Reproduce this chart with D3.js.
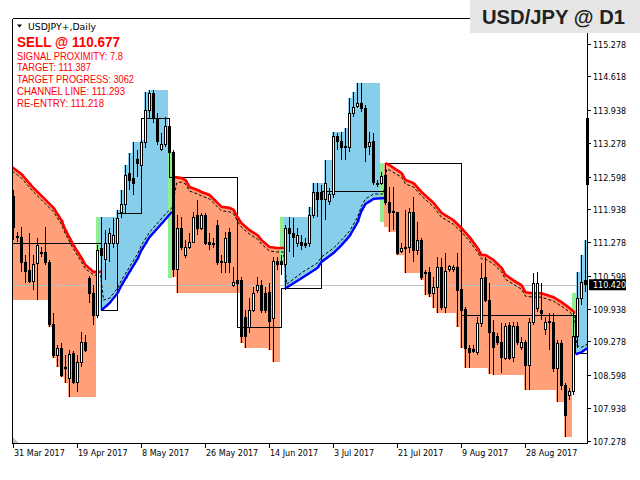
<!DOCTYPE html>
<html><head><meta charset="utf-8">
<script src="https://cdn.jsdelivr.net/npm/d3@7"></script>
<style>body{margin:0;background:#fff}svg{display:block}</style>
</head><body>
<script>
// ---------- DATA ----------
const dateLabels = ["31 Mar 2017","19 Apr 2017","8 May 2017","26 May 2017","14 Jun 2017","3 Jul 2017","21 Jul 2017","9 Aug 2017","28 Aug 2017"];
const dateIdx = [0,16,32,48,64,80,96,112,128];
const priceTicks = [115.278,114.618,113.938,113.278,112.598,111.938,111.278,110.598,109.938,109.278,108.598,107.938,107.278];

const open = [112.19,111.40,111.38,110.86,110.70,110.49,110.84,111.08,111.08,110.86,
109.61,109.00,109.14,108.76,108.54,109.04,108.46,108.86,109.26,110.55,
110.25,109.81,111.16,110.92,111.26,111.26,111.26,111.87,112.03,112.67,
112.57,112.95,112.83,113.28,113.94,114.28,113.78,113.14,113.24,113.60,
113.09,110.72,111.56,111.02,111.18,111.28,111.82,111.56,111.82,111.28,
111.26,111.62,110.88,110.86,111.48,110.41,110.51,110.51,109.77,109.55,
109.91,110.31,110.41,110.25,110.27,109.75,110.88,110.88,110.82,111.56,
111.46,111.26,111.28,111.26,111.26,111.82,112.27,112.27,112.13,112.09,
112.23,113.40,113.30,113.20,113.18,113.88,114.02,114.08,113.98,113.20,
113.30,112.47,112.47,112.63,112.07,111.89,111.87,111.10,111.18,111.18,
111.87,111.12,111.32,110.66,110.66,110.25,110.37,110.76,109.97,110.72,
110.72,110.76,110.33,109.93,109.14,109.12,109.06,109.63,110.57,110.11,
109.45,109.37,109.26,108.94,109.59,108.96,109.57,109.16,109.26,108.80,
109.65,109.95,109.91,109.51,109.65,109.65,108.74,109.24,108.40,108.18,
108.26,109.37,110.15,110.50];
const high = [112.33,111.48,111.58,111.02,111.46,111.02,111.36,111.18,111.58,110.92,
109.85,109.20,109.24,109.00,109.10,109.08,109.00,109.47,109.41,110.60,
110.41,111.22,111.78,111.52,111.56,111.76,111.93,112.33,112.83,113.07,
113.30,113.14,113.34,114.30,114.34,114.34,113.88,113.48,113.80,113.78,
113.14,111.82,111.78,111.32,111.46,111.89,112.13,111.87,111.87,111.46,
111.36,111.72,111.02,111.48,111.56,110.78,110.55,110.57,109.91,110.15,
110.37,110.57,110.51,110.37,110.45,110.98,110.98,111.02,111.62,111.78,
111.76,111.56,111.42,111.36,111.99,112.47,112.47,112.43,112.93,112.37,
113.50,113.48,113.50,113.58,114.18,114.30,114.49,114.49,114.04,113.50,
113.48,112.53,112.69,112.83,112.39,112.39,111.89,111.26,111.93,111.97,
112.19,111.68,111.36,110.72,110.78,110.57,110.98,110.96,111.06,110.82,
110.82,111.06,110.45,109.97,109.20,109.20,109.77,110.86,110.98,110.45,
109.71,109.45,109.65,109.65,109.67,109.67,109.67,109.37,109.30,109.75,
110.66,110.68,110.45,109.77,109.85,109.85,109.30,109.30,108.44,108.34,
109.85,110.68,111.02,111.32];
const low = [111.32,111.28,110.68,110.45,110.45,110.31,110.11,110.98,110.82,109.57,
108.94,108.76,108.56,108.44,108.16,108.42,108.26,108.76,109.06,110.05,
109.61,109.75,110.01,110.51,110.88,111.16,111.12,111.76,111.87,112.33,
112.23,112.59,112.39,113.18,113.78,113.68,113.24,113.12,113.20,113.07,
110.57,110.25,111.12,110.96,111.14,111.26,111.42,111.52,111.22,111.12,
111.16,110.82,110.66,110.66,110.66,110.37,110.41,109.24,109.14,109.45,
109.87,110.25,109.85,109.85,109.10,108.86,110.72,110.62,110.31,111.08,
110.98,111.18,111.12,111.16,111.18,111.76,111.78,111.93,111.72,112.03,
112.17,113.14,112.93,112.93,113.09,113.80,113.98,113.90,112.89,113.03,
112.43,112.39,112.43,112.03,111.48,111.52,111.02,111.06,110.66,111.06,
110.88,111.02,110.51,110.21,110.17,109.95,109.85,109.91,109.85,110.68,
110.68,109.57,109.14,108.74,108.74,109.04,109.00,109.57,110.07,108.62,
108.60,109.20,108.64,108.90,108.90,108.86,109.20,109.10,108.30,108.30,
109.61,109.87,109.71,109.41,109.10,108.66,108.05,108.30,107.35,108.10,
108.20,109.14,110.01,110.27];
const close = [111.58,111.38,110.86,110.68,110.49,110.82,111.22,111.06,110.86,109.61,
109.00,109.14,108.60,108.74,109.02,108.46,108.86,109.26,109.10,110.25,
109.81,111.12,111.02,111.26,111.46,111.42,111.76,112.03,112.63,112.53,
112.47,112.87,113.28,113.94,114.28,113.78,113.30,113.24,113.60,113.09,
110.72,111.56,111.18,111.18,111.28,111.78,111.56,111.82,111.26,111.24,
111.24,110.86,110.86,111.36,110.86,110.47,110.45,109.37,109.37,109.91,
110.25,110.41,109.91,109.91,109.67,110.88,110.82,110.82,111.56,111.46,
111.38,111.42,111.22,111.22,111.82,112.27,112.13,112.13,112.47,112.23,
113.40,113.30,113.18,113.18,113.88,114.00,114.08,113.98,113.18,113.28,
112.49,112.45,112.61,112.07,111.87,111.87,111.06,111.16,111.16,111.87,
111.12,111.32,110.57,110.64,110.25,110.37,110.76,109.97,110.68,110.78,
110.76,110.31,109.91,109.14,109.06,109.08,109.63,110.55,110.11,109.45,
109.16,109.26,108.96,109.57,108.94,109.57,109.26,109.26,108.80,109.65,
110.45,110.45,109.85,109.65,109.69,108.74,109.24,108.40,107.79,108.26,
109.37,110.15,110.47,110.42];

// trend segments (channel indicator)
const segType = ["down","up","down","up","down","up"];
const segFrom = [0,22,40,68,93,141];
const segTo   = [20,38,66,91,139,143];
const segStartExtreme = [110.11,null,null,111.78,111.58,null];

const redKnots = [
 [[-0.3,112.79],[2,112.65],[5,112.37],[7,112.21],[10,111.97],[12,111.72],[13,111.52],[15,111.22],[17,110.96],[18,110.82],[20,110.68],[22,110.68]],
 [[40.3,112.59],[42,112.57],[43,112.53],[44,112.39],[46,112.33],[47,112.29],[49,112.23],[51,112.07],[52,111.99],[54,111.97],[55,111.93],[56,111.78],[57,111.66],[59,111.52],[61,111.42],[62,111.32],[64,111.18],[66,111.16],[67.9,111.16]],
 [[93,112.87],[94,112.83],[97,112.67],[98,112.53],[100,112.47],[102,112.29],[105,112.07],[107,111.87],[110,111.72],[112,111.56],[114,111.38],[116,111.16],[117,111.02],[118,111.02],[120,110.92],[122,110.76],[123,110.62],[125,110.51],[127,110.41],[128,110.27],[130,110.25],[132,110.25],[135,110.17],[137,110.07],[139,109.95],[140.4,109.85]]
];
const blueKnots = [
 [[22,109.91],[24,110.05],[26,110.25],[27,110.41],[29,110.68],[31,110.94],[32,111.12],[34,111.38],[36,111.56],[38,111.74],[39.6,111.89]],
 [[68,110.35],[72,110.55],[76,110.76],[77,110.88],[80,111.06],[82,111.22],[84,111.40],[86,111.68],[87,111.91],[88,112.05],[90,112.15],[92.9,112.17]],
 [[140.5,109.02],[142,109.06],[143.4,109.14]]
];
const dashKnots = [
 [-0.3,112.71],[2,112.57],[5,112.29],[7,112.13],[10,111.89],[12,111.64],[13,111.44],[15,111.14],[17,110.88],[18,110.74],[20,110.62],[21.8,110.60],
 [22.5,110.11],[24,110.15],[26,110.35],[27,110.51],[29,110.78],[31,111.04],[32,111.22],[34,111.48],[36,111.66],[38,111.85],[39.6,111.97],
 [40.8,112.47],[42,112.49],[43,112.45],[44,112.31],[46,112.25],[47,112.21],[49,112.15],[51,111.99],[52,111.91],[54,111.89],[55,111.85],[56,111.70],[57,111.58],[59,111.44],[61,111.34],[62,111.24],[64,111.10],[66,111.08],[67.5,111.08],
 [68.3,110.43],[72,110.66],[76,110.86],[77,110.98],[80,111.16],[82,111.32],[84,111.50],[86,111.78],[87,112.01],[88,112.15],[90,112.25],[92.5,112.25],
 [93.3,112.75],[94,112.73],[97,112.59],[98,112.45],[100,112.39],[102,112.21],[105,111.99],[107,111.78],[110,111.64],[112,111.48],[114,111.30],[116,111.08],[117,110.94],[118,110.94],[120,110.84],[122,110.68],[123,110.53],[125,110.43],[127,110.33],[128,110.19],[130,110.17],[132,110.17],[135,110.09],[137,109.99],[139,109.87],[140.3,109.77],
 [140.8,109.20],[142,109.16],[143.4,109.22]
];
const greenIdx = [21,39,67,92,140];
const greenHi  = [111.78,113.09,111.78,112.87,110.25];
const greenLo  = [111.06,110.55,110.82,111.68,109.37];

const stepIdx   = [-0.4,21.9,26.1,31.9,39.1,55.9,67.1,77.1,92.9,112.1,140.4,143.6];
const stepPrice = [111.26,109.91,111.85,113.78,112.59,109.55,110.35,112.29,112.87,109.81,109.04,109.04];

const lastPrice = 110.420;
const rangeBar = [113.78,112.43];
const infoTitle = "SELL @ 110.677";
const infoLines = ["SIGNAL PROXIMITY: 7.8","TARGET: 111.387","TARGET PROGRESS: 3062","CHANNEL LINE: 111.293","RE-ENTRY: 111.218"];

// layout (text widths measured on the reference)
const infoWidths = [106,74,117,108,87];

// ---------- DRAW ----------
const W=640,H=480;
const svg=d3.select("body").append("svg").attr("width",W).attr("height",H)
  .style("font-family","'DejaVu Sans',sans-serif");
const L=12.5,R=587.5,T=18.5,B=443.5;
const x=d3.scaleLinear().domain([0,143]).range([13.5,585.5]);
const y=d3.scaleLinear().domain([107.278,115.278]).range([440.7,43.7]);

svg.append("clipPath").attr("id","plotclip").append("rect")
  .attr("x",L).attr("y",T).attr("width",R-L).attr("height",B-T);
const g=svg.append("g").attr("clip-path","url(#plotclip)");

// shading
const shade=g.append("g").attr("shape-rendering","crispEdges");
let ri=0,bi=0;
segType.forEach((t,k)=>{
  const knots = t==="down" ? redKnots[ri++] : blueKnots[bi++];
  const lineAt = d3.scaleLinear().domain(knots.map(d=>d[0])).range(knots.map(d=>d[1])).clamp(true);
  let ext = segStartExtreme[k];
  for(let i=segFrom[k];i<=segTo[k];i++){
    if(t==="down"){ ext = ext===null?low[i]:Math.min(ext,low[i]); }
    else { ext = ext===null?high[i]:Math.max(ext,high[i]); }
    const lv=lineAt(i);
    shade.append("rect")
      .attr("x",x(i)-2).attr("width",4)
      .attr("y",y(Math.max(lv,ext))).attr("height",Math.abs(y(lv)-y(ext)))
      .attr("fill",t==="down"?"#FFA07A":"#87CEEB");
  }
});
greenIdx.forEach((gi,k)=>{
  shade.append("rect").attr("x",x(gi)-2).attr("width",4)
    .attr("y",y(greenHi[k])).attr("height",y(greenLo[k])-y(greenHi[k]))
    .attr("fill","#90EE90");
});

// current price line
g.append("line").attr("x1",L).attr("x2",R).attr("y1",Math.round(y(lastPrice))+0.5).attr("y2",Math.round(y(lastPrice))+0.5)
  .attr("stroke","#c0c0c0").attr("stroke-width",1);

// step line
const stepPts=stepIdx.map((v,k)=>[v,stepPrice[k]]);
g.append("path").attr("d",d3.line().x(d=>x(d[0])).y(d=>y(d[1])).curve(d3.curveStepAfter)(stepPts))
  .attr("fill","none").attr("stroke","#000").attr("stroke-width",1).attr("shape-rendering","crispEdges");

// dashed line
const ln=d3.line().x(d=>x(d[0])).y(d=>y(d[1]));
g.append("path").attr("d",ln(dashKnots)).attr("fill","none").attr("stroke","#000")
  .attr("stroke-width",1).attr("stroke-dasharray","3,2");

// red / blue channel lines
redKnots.forEach(k=>g.append("path").attr("d",ln(k)).attr("fill","none").attr("stroke","#ff0000").attr("stroke-width",2.6));
blueKnots.forEach(k=>g.append("path").attr("d",ln(k)).attr("fill","none").attr("stroke","#0000ff").attr("stroke-width",2.4));

// candles
const idx=d3.range(open.length);
const cg=g.append("g").attr("shape-rendering","crispEdges");
cg.selectAll("line.w").data(idx).enter().append("line")
  .attr("x1",i=>Math.floor(x(i))+0.5).attr("x2",i=>Math.floor(x(i))+0.5)
  .attr("y1",i=>y(high[i])).attr("y2",i=>y(low[i]))
  .attr("stroke","#000").attr("stroke-width",1);
cg.selectAll("rect.b").data(idx).enter().append("rect")
  .attr("x",i=>Math.floor(x(i))-0.5).attr("width",2)
  .attr("y",i=>y(Math.max(open[i],close[i])))
  .attr("height",i=>Math.max(0.5,Math.abs(y(open[i])-y(close[i]))))
  .attr("fill",i=>close[i]>=open[i]?"#fff":"#000")
  .attr("stroke","#000").attr("stroke-width",1);

// range bar at the right edge
svg.append("rect").attr("x",R-1.5).attr("width",3).attr("y",y(rangeBar[0])).attr("height",y(rangeBar[1])-y(rangeBar[0])).attr("fill","#000");

// frame
const fr=svg.append("g").attr("stroke","#000").attr("stroke-width",1).attr("shape-rendering","crispEdges");
fr.append("line").attr("x1",L).attr("x2",L).attr("y1",T).attr("y2",B);
fr.append("line").attr("x1",L).attr("x2",470).attr("y1",T).attr("y2",T);
fr.append("line").attr("x1",L).attr("x2",R).attr("y1",B).attr("y2",B);
fr.append("line").attr("x1",R).attr("x2",R).attr("y1",33).attr("y2",B);
svg.append("path").attr("d",`M${L+0.5},437 L${L+0.5},${B-0.5} L${L+6},${B-0.5}Z`).attr("fill","#c0c0c0");

// right axis
const ya=svg.append("g");
priceTicks.forEach(p=>{
  const yy=Math.round(y(p))+0.5;
  ya.append("line").attr("x1",R).attr("x2",R+3).attr("y1",yy).attr("y2",yy).attr("stroke","#000").attr("shape-rendering","crispEdges");
  ya.append("text").attr("x",593).attr("y",yy+3).attr("font-size",8).attr("fill","#000").text(d3.format(".3f")(p));
});
// current price tag
const yp=y(lastPrice);
svg.append("rect").attr("x",589).attr("y",yp-5.5).attr("width",37).attr("height",11).attr("fill","#000");
svg.append("text").attr("x",593).attr("y",yp+3).attr("font-size",8).attr("fill","#fff").text(d3.format(".3f")(lastPrice));

// bottom axis
dateIdx.forEach((di,k)=>{
  const xx=Math.round(x(di)-1)+0.5;
  svg.append("line").attr("x1",xx).attr("x2",xx).attr("y1",B).attr("y2",B+4).attr("stroke","#000").attr("shape-rendering","crispEdges");
  svg.append("text").attr("x",xx+0.5).attr("y",456).attr("font-size",8).attr("fill","#000").text(dateLabels[k]);
});

// title box
svg.append("rect").attr("x",470).attr("y",0).attr("width",170).attr("height",33).attr("fill","#e6e6e6");
svg.append("text").attr("x",482).attr("y",23.5).attr("font-family","'Liberation Sans',Arial,sans-serif")
  .attr("font-weight","bold").attr("font-size",21).attr("fill","#222")
  .attr("textLength",143).attr("lengthAdjust","spacingAndGlyphs").text("USD/JPY @ D1");

// chart header
svg.append("path").attr("d","M17,24.5 L22,24.5 L19.5,27.5Z").attr("fill","#000");
svg.append("text").attr("x",28).attr("y",30).attr("font-size",9.2).attr("fill","#000")
  .attr("textLength",68).attr("lengthAdjust","spacingAndGlyphs").text("USDJPY+,Daily");

// info text
svg.append("text").attr("x",17).attr("y",47).attr("font-family","'Liberation Sans',Arial,sans-serif")
  .attr("font-weight","bold").attr("font-size",13.8).attr("fill","#ff0000")
  .attr("textLength",103).attr("lengthAdjust","spacingAndGlyphs").text(infoTitle);
infoLines.forEach((s,k)=>{
  svg.append("text").attr("x",17).attr("y",59.5+k*11.8).attr("font-family","'Liberation Sans',Arial,sans-serif")
    .attr("font-size",10.2).attr("fill","#ff0000")
    .attr("textLength",infoWidths[k]).attr("lengthAdjust","spacingAndGlyphs").text(s);
});
</script>
</body></html>
